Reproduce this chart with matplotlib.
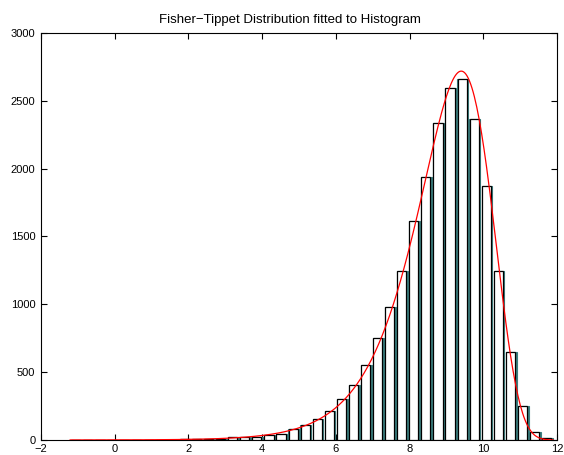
import numpy as np
import matplotlib
matplotlib.use("Agg")
import matplotlib.pyplot as plt

plt.rcParams["font.family"] = ["Liberation Sans", "DejaVu Sans"]

# histogram: 40 bins between the sample min and max
x_min, x_max = -1.21, 11.89
counts = [0, 0, 1, 2, 0, 1, 2, 0, 3, 4, 6, 8,
          10, 25, 20, 22, 35, 44, 83, 110, 157, 213, 302, 405,
          555, 752, 978, 1245, 1611, 1938, 2336, 2594, 2658, 2365,
          1869, 1245, 651, 250, 56, 12]

# fitted Fisher-Tippett (Gumbel, min type) parameters
mu = 9.40
beta = 1.00

xticks = [-2, 0, 2, 4, 6, 8, 10, 12]
yticks = [0, 500, 1000, 1500, 2000, 2500, 3000]

n_bins = len(counts)
width = (x_max - x_min) / n_bins
centers = x_min + width * (np.arange(n_bins) + 0.5)
counts = np.array(counts)

fig = plt.figure(figsize=(5.64, 4.55), dpi=100)
ax = fig.add_axes([0.0727, 0.033, 0.915, 0.8945])

# bars: teal body with white, black-edged face on top
ax.bar(centers + 0.01, counts, width=width * 0.90, color="#3c8080",
       edgecolor="#3c8080", linewidth=0.8, zorder=2)
ax.bar(centers - 0.01, counts, width=width * 0.76, color="white",
       edgecolor="black", linewidth=0.9, zorder=3)

# fitted density scaled to counts
xs = np.linspace(x_min, x_max, 400)
z = (xs - mu) / beta
pdf = np.exp(z) * np.exp(-np.exp(z)) / beta
ax.plot(xs, pdf * counts.sum() * width, color="red", linewidth=0.9, zorder=4)

ax.set_xlim(-2, 12)
ax.set_ylim(0, 3000)
ax.set_xticks(xticks)
ax.set_yticks(yticks)
ax.tick_params(direction="in", length=4, width=0.8, labelsize=8,
               top=True, right=True)
ax.tick_params(axis="x", pad=3)
ax.tick_params(axis="y", pad=4)
for s in ax.spines.values():
    s.set_linewidth(0.8)

ax.set_title("Fisher\u2212Tippet Distribution fitted to Histogram",
             fontsize=9.5, pad=7, x=0.483)

fig.savefig("out.png", dpi=100)
